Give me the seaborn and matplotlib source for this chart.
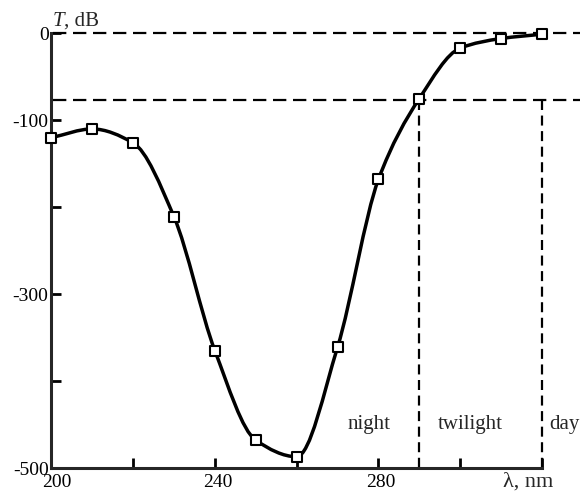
import numpy as np
import pandas as pd
import matplotlib
matplotlib.use("Agg")
import matplotlib.pyplot as plt
import matplotlib.transforms as mtransforms
from matplotlib.path import Path
from matplotlib.patches import PathPatch
import seaborn as sns

# Transmission vs. wavelength
wavelength = [200, 210, 220, 230, 240, 250, 260, 270, 280, 290, 300, 310, 320]
transmission = [-120, -110, -126, -211, -365, -468, -487, -361, -168, -75, -17, -6, -1]

# Regime boundaries
threshold_level = -77
night_twilight = 290
twilight_day = 320

x_ticks = [200, 220, 240, 260, 280, 300, 320]
x_labels = ["200", "", "240", "", "280", "", ""]
y_ticks = [0, -100, -200, -300, -400, -500]
y_labels = ["0", "-100", "", "-300", "", "-500"]

regions = ["night", "twilight", "day"]
region_x = [277.6, 302.5, 325.5]
region_y = -450

sns.set_style("white")
plt.rcParams["font.family"] = ["Liberation Serif", "DejaVu Serif"]
plt.rcParams["axes.unicode_minus"] = False

df = pd.DataFrame({"wavelength": wavelength, "T": transmission})

fig = plt.figure(figsize=(5.85, 4.93), dpi=100)
ax = fig.add_axes([0.0877, 0.0507, 0.9038, 0.8817])
ax.set_xlim(200, 329.3)
ax.set_ylim(-500, 0)

# smooth monotone (Fritsch-Carlson) cubic through the points, drawn as Bezier path
x = np.asarray(wavelength, float)
y = np.asarray(transmission, float)
h = np.diff(x)
d = np.diff(y) / h
m = np.zeros_like(y)
m[0], m[-1] = d[0], d[-1]
for i in range(1, len(x) - 1):
    if d[i - 1] * d[i] > 0:
        w1 = 2 * h[i] + h[i - 1]
        w2 = h[i] + 2 * h[i - 1]
        m[i] = (w1 + w2) / (w1 / d[i - 1] + w2 / d[i])
    else:
        m[i] = 0.0
verts = [(x[0], y[0])]
codes = [Path.MOVETO]
for i in range(len(x) - 1):
    verts += [(x[i] + h[i] / 3, y[i] + m[i] * h[i] / 3),
              (x[i + 1] - h[i] / 3, y[i + 1] - m[i + 1] * h[i] / 3),
              (x[i + 1], y[i + 1])]
    codes += [Path.CURVE4] * 3
curve = PathPatch(Path(verts, codes), facecolor="none", edgecolor="black",
                  lw=2.5, capstyle="round", joinstyle="round", zorder=3,
                  clip_on=False)
ax.add_patch(curve)

# dashed reference lines
dash_kw = dict(color="black", lw=1.6, dashes=(6, 3), zorder=2, clip_on=False)
ax.plot([200.3, 329.3], [0, 0], **dash_kw)
ax.plot([200.3, 329.3], [threshold_level, threshold_level], **dash_kw)
vdash_kw = dict(color="black", lw=1.6, dashes=(4.5, 2.5), zorder=2, clip_on=False)
ax.plot([night_twilight, night_twilight], [threshold_level, -500], **vdash_kw)
ax.plot([twilight_day, twilight_day], [threshold_level, -500], **vdash_kw)

sns.scatterplot(data=df, x="wavelength", y="T", ax=ax, marker="s", s=55,
                facecolor="white", edgecolor="black", linewidth=1.5,
                zorder=4, clip_on=False, legend=False)

ax.set_xlabel("")
ax.set_ylabel("")

for sp in ["top", "right"]:
    ax.spines[sp].set_visible(False)
ax.spines["left"].set_linewidth(2.2)
ax.spines["bottom"].set_linewidth(2.2)
ax.spines["left"].set_bounds(-500, 0)
ax.spines["bottom"].set_bounds(200, 320)

ax.set_xticks(x_ticks)
ax.set_xticklabels(x_labels)
ax.set_yticks(y_ticks)
ax.set_yticklabels(y_labels)
ax.tick_params(direction="in", length=7.5, width=2, labelsize=14,
               colors="black", bottom=True, left=True)
ax.tick_params(axis="y", pad=2)
ax.tick_params(axis="x", pad=4.5)

# nudge x tick labels slightly right, the first one a bit more
for i, lbl in enumerate(ax.get_xticklabels()):
    dx = 6 if i == 0 else 2.5
    lbl.set_transform(lbl.get_transform() +
                      mtransforms.ScaledTranslation(dx / 100, 0, fig.dpi_scale_trans))

for name, xr in zip(regions, region_x):
    ax.text(xr, region_y, name, ha="center", va="center", fontsize=15)

ax.text(200.4, 3, "T", ha="left", va="bottom", fontsize=15, fontstyle="italic")
ax.text(203.0, 3, ", dB", ha="left", va="bottom", fontsize=15)
ax.text(316.5, -516, "λ, nm", ha="center", va="center", fontsize=16)

fig.savefig("out.png", dpi=100, facecolor="white")
